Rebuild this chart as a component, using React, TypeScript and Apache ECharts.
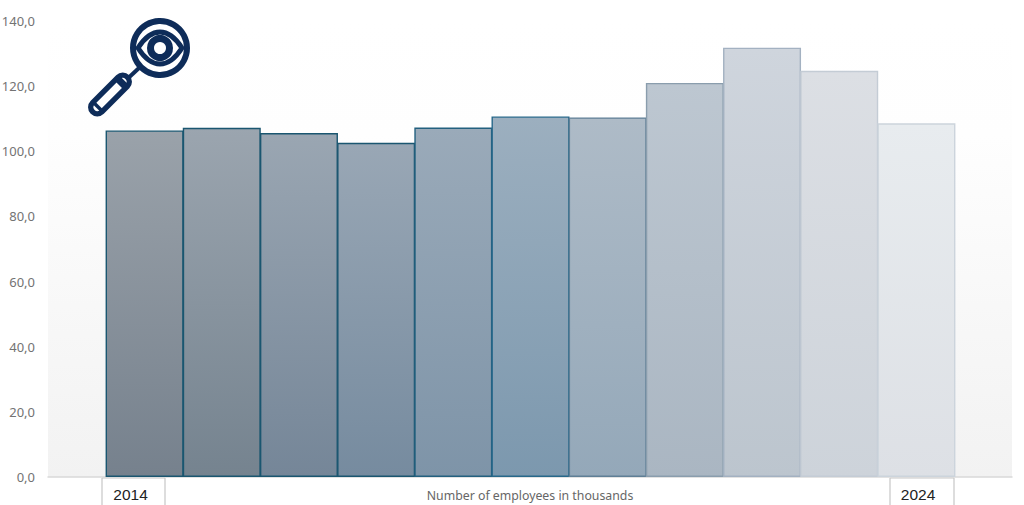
import React, { useEffect, useRef } from "react";
import * as echarts from "echarts";

const categories = ["2014", "2015", "2016", "2017", "2018", "2019", "2020", "2021", "2022", "2023", "2024"];
const values = [106.4, 107.2, 105.6, 102.6, 107.3, 110.7, 110.4, 121.0, 131.8, 124.7, 108.6];
const topColors = ["#9aa2aa", "#9ba5af", "#9aa6b2", "#99a7b5", "#9aaab9", "#9cafbf", "#aebbc7", "#bdc7d1", "#cfd5dd", "#dcdfe4", "#e8ecef"];
const bottomColors = ["#76818d", "#75838f", "#758698", "#768b9f", "#7e94a8", "#7c98ae", "#94a8b9", "#aab6c2", "#bcc5ce", "#cdd3da", "#dde0e5"];
const borderColors = ["#1a5670", "#1a5670", "#1a5670", "#1a5670", "#23607f", "#27688a", "#5f7f96", "#8a9dad", "#a3b1c1", "#c4ccd5", "#ccd4dc"];
const yearBoxes = [
  { label: "2014", x0: 102, x1: 165, tx: 130.5 },
  { label: "2024", x0: 890, x1: 954, tx: 918 },
];
const navy = "#0e2c59";
const eyePath = "M138 48 C145 37 152 32 160 32 C168 32 175 37 182 48 C175 59 168 64 160 64 C152 64 145 59 138 48 Z";

echarts.graphic.registerShape("eyeShape", echarts.graphic.extendPath(eyePath, {}) as any);

export default function App() {
  const ref = useRef<HTMLDivElement>(null);
  useEffect(() => {
    const chart = echarts.init(ref.current!, undefined, { renderer: "svg" });
    const line = (x1: number, y1: number, x2: number, y2: number) => ({
      type: "line", shape: { x1, y1, x2, y2 }, style: { stroke: "#c6c6c6", lineWidth: 1.2 },
    });
    const handleX = 110;
    const handleY = 94.5;
    const handleRot = Math.PI / 4;
    chart.setOption({
      animation: false,
      backgroundColor: "#ffffff",
      grid: [
        {
          left: 48, width: 964, top: 21, height: 456, show: true, borderWidth: 0, outerBoundsMode: "none",
          backgroundColor: new echarts.graphic.LinearGradient(0, 0, 0, 1, [
            { offset: 0, color: "#ffffff" },
            { offset: 0.25, color: "#fefefe" },
            { offset: 1, color: "#f2f2f2" },
          ]),
        },
        { left: 106, width: 849, top: 21, height: 456, show: false, outerBoundsMode: "none" },
      ],
      xAxis: [
        {
          type: "value", gridIndex: 0, min: 0, max: 1,
          axisLine: { show: true, onZero: false, lineStyle: { color: "#d9d9d9", width: 1.5 } },
          axisTick: { show: false }, axisLabel: { show: false }, splitLine: { show: false },
          name: "Number of employees in thousands", nameLocation: "middle", nameGap: 12,
          nameTextStyle: { color: "#666666", fontSize: 12.3, fontFamily: "Noto Sans" },
        },
        {
          type: "category", gridIndex: 1, data: categories,
          axisLine: { show: false }, axisTick: { show: false }, axisLabel: { show: false }, splitLine: { show: false },
        },
      ],
      yAxis: [
        {
          type: "value", gridIndex: 0, min: 0, max: 140, interval: 20,
          axisLine: { show: false }, axisTick: { show: false }, splitLine: { show: false },
          axisLabel: {
            color: "#737373", fontSize: 13, fontFamily: "Noto Sans", margin: 13,
            formatter: (v: number) => v.toFixed(1).replace(".", ","),
          },
        },
        { type: "value", gridIndex: 1, min: 0, max: 140, interval: 20, show: false },
      ],
      series: [
        {
          type: "bar", xAxisIndex: 1, yAxisIndex: 1, barWidth: 78, barGap: "0%",
          data: values.map((v, i) => ({
            value: v,
            itemStyle: {
              color: new echarts.graphic.LinearGradient(0, 0, 0, 1, [
                { offset: 0, color: topColors[i] },
                { offset: 1, color: bottomColors[i] },
              ]),
              borderColor: borderColors[i],
              borderWidth: 1.4,
            },
          })),
        },
      ],
      graphic: [
        ...yearBoxes.flatMap((b) => [
          line(b.x0, 478, b.x0, 505),
          line(b.x1, 478, b.x1, 505),
          line(b.x0, 478, b.x1, 478),
          {
            type: "text", x: b.tx, y: 494,
            style: { text: b.label, fill: "#222222", font: "15.5px 'Liberation Sans'", textAlign: "center", textVerticalAlign: "middle" },
          },
        ]),
        { type: "line", shape: { x1: 139, y1: 68, x2: 124, y2: 82 }, style: { stroke: navy, lineWidth: 4 } },
        { type: "circle", shape: { cx: 160, cy: 48, r: 27 }, style: { fill: "#ffffff", stroke: navy, lineWidth: 6 } },
        { type: "eyeShape", style: { fill: "#ffffff", stroke: navy, lineWidth: 5 } },
        { type: "circle", shape: { cx: 160, cy: 48, r: 9.5 }, style: { fill: "#ffffff", stroke: navy, lineWidth: 7 } },
        {
          type: "rect", x: handleX, y: handleY, rotation: handleRot,
          shape: { x: -24.5, y: -6.5, width: 49, height: 13, r: 6.5 },
          style: { fill: "#ffffff", stroke: navy, lineWidth: 5.5 },
        },
        {
          type: "rect", x: handleX, y: handleY, rotation: handleRot,
          shape: { x: -19, y: -6, width: 3.5, height: 12 }, style: { fill: navy },
        },
        {
          type: "rect", x: handleX, y: handleY, rotation: handleRot,
          shape: { x: 13, y: -6, width: 7, height: 12 }, style: { fill: navy },
        },
      ],
    });
    return () => chart.dispose();
  }, []);
  return <div ref={ref} style={{ position: "fixed", left: 0, top: 0, width: 1024, height: 505 }} />;
}
